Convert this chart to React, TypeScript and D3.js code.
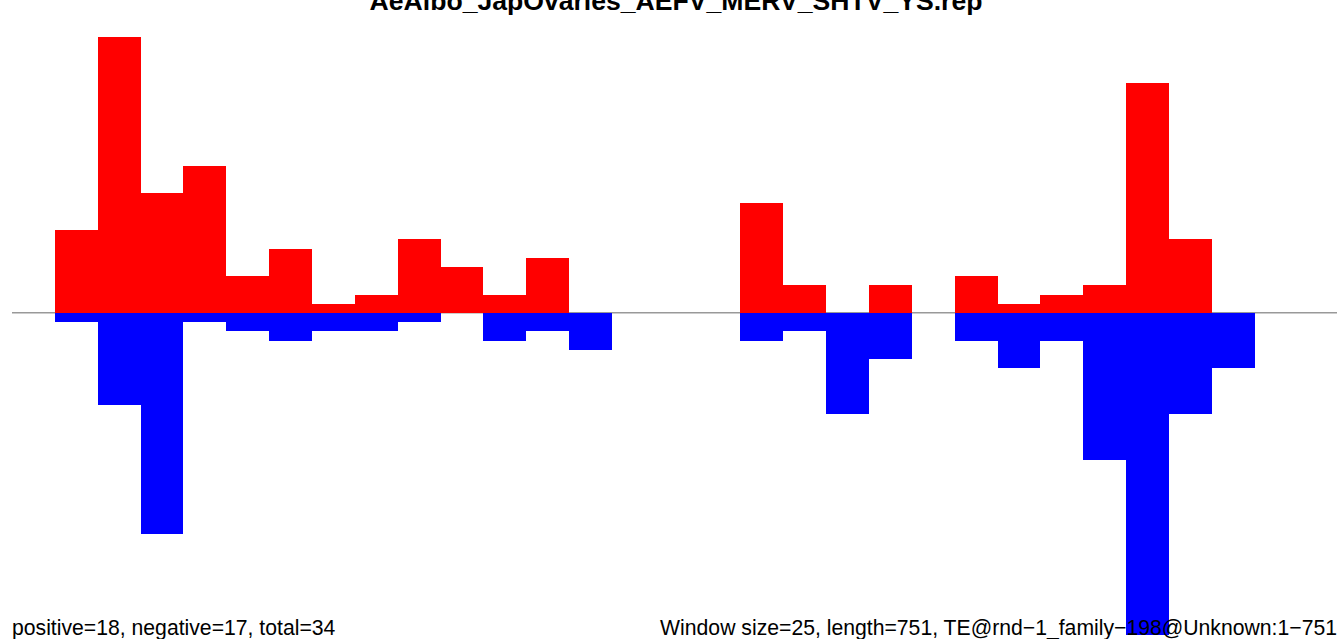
import React, {FC, useEffect, useRef} from 'react';
import * as d3 from 'd3';

// window of 25 bp, one entry per window (start position)
const windowSize = 25;
const binStarts = d3.range(0, 775, windowSize);
const positiveValues = [0, 9, 30, 13, 16, 4, 7, 1, 2, 8, 5, 2, 6, 0, 0, 0, 0, 12, 3, 0, 3, 0, 4, 1, 2, 3, 25, 8, 0, 0, 0];
const negativeValues = [0, 1, 10, 24, 1, 2, 3, 2, 2, 1, 0, 3, 2, 4, 0, 0, 0, 3, 2, 11, 5, 0, 3, 6, 3, 16, 35, 11, 6, 0, 0];

const title = 'AeAlbo_JapOvaries_AEFV_MERV_SHTV_YS.rep';
const leftNote = 'positive=18, negative=17, total=34';
const rightNote = 'Window size=25, length=751, TE@rnd\u22121_family\u2212198@Unknown:1\u2212751';

const App: FC = () => {
  const ref = useRef<SVGSVGElement>(null);
  const width = 1337,
    height = 639;

  useEffect(() => {
    const svg = d3.select(ref.current);
    svg.selectAll('*').remove();

    const x = d3.scaleLinear().domain([0, 773]).range([12, 1337]);
    const y = d3.scaleLinear().domain([-35, 30]).range([635, 37]);

    // zero line
    svg
      .append('line')
      .attr('x1', x(0))
      .attr('x2', x(773))
      .attr('y1', y(0) - 0.3)
      .attr('y2', y(0) - 0.3)
      .attr('stroke', '#999')
      .attr('stroke-width', 1.5);

    const bins = binStarts.map((s, i) => ({
      start: s,
      pos: positiveValues[i],
      neg: negativeValues[i],
    }));

    // positive strand
    svg
      .append('g')
      .selectAll('rect')
      .data(bins.filter(d => d.pos > 0))
      .enter()
      .append('rect')
      .attr('x', d => x(d.start))
      .attr('width', d => x(d.start + windowSize) - x(d.start))
      .attr('y', d => y(d.pos))
      .attr('height', d => y(0) - y(d.pos))
      .attr('fill', '#ff0000')
      .attr('shape-rendering', 'crispEdges');

    // negative strand
    svg
      .append('g')
      .selectAll('rect')
      .data(bins.filter(d => d.neg > 0))
      .enter()
      .append('rect')
      .attr('x', d => x(d.start))
      .attr('width', d => x(d.start + windowSize) - x(d.start))
      .attr('y', y(0))
      .attr('height', d => y(-d.neg) - y(0))
      .attr('fill', '#0000ff')
      .attr('shape-rendering', 'crispEdges');

    svg
      .append('text')
      .attr('x', 676)
      .attr('y', 10)
      .attr('text-anchor', 'middle')
      .attr('font-family', 'Liberation Sans, Arial, sans-serif')
      .attr('font-weight', 'bold')
      .attr('font-size', 26.6)
      .text(title);

    svg
      .append('text')
      .attr('x', 12)
      .attr('y', 635)
      .attr('font-family', 'Liberation Sans, Arial, sans-serif')
      .attr('font-size', 21.2)
      .text(leftNote);

    svg
      .append('text')
      .attr('x', 1337)
      .attr('y', 635)
      .attr('text-anchor', 'end')
      .attr('font-family', 'Liberation Sans, Arial, sans-serif')
      .attr('font-size', 21.2)
      .text(rightNote);
  }, []);

  return (
    <svg
      ref={ref}
      width={width}
      height={height}
      style={{position: 'absolute', left: 0, top: 0, background: '#fff'}}
    />
  );
};

export default App;
